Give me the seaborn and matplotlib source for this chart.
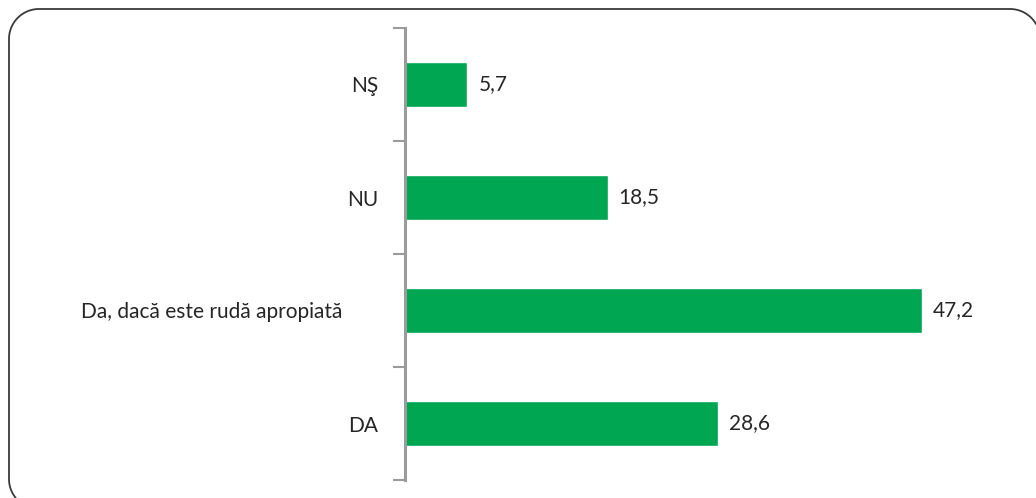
import matplotlib
matplotlib.use("Agg")
import numpy as np
import matplotlib.pyplot as plt
import matplotlib.transforms as mtransforms
import seaborn as sns
import pandas as pd

categories = ["NŞ", "NU", "Da, dacă este rudă apropiată", "DA"]
values = [5.7, 18.5, 47.2, 28.6]

BAR_COLOR = "#00A651"
AXIS_COLOR = "#9B9B9B"
TEXT_COLOR = "#262626"
FRAME_COLOR = "#3a3a3a"

sns.set_theme(style="white")
plt.rcParams["font.family"] = ["Lato", "DejaVu Sans"]

W, H = 1036, 498
fig = plt.figure(figsize=(W / 100, H / 100), dpi=100)

# Background layer in pixel units (y downwards) for the rounded frame,
# which runs off the right and bottom edges of the canvas
bg = fig.add_axes([0, 0, 1, 1], zorder=-1)
bg.set_xlim(0, W)
bg.set_ylim(H, 0)
bg.axis("off")


def corner(cx, cy, r, t0, t1, n=40):
    t = np.radians(np.linspace(t0, t1, n))
    return cx + r * np.cos(t), cy - r * np.sin(t)


R = 30
left, top = 9, 9
t_tr = np.degrees(np.arccos((W - (1040 - R)) / R))
t_bl = 180 + np.degrees(np.arcsin((H - (509 - R)) / R))
xs, ys = [], []
for cx, cy, a0, a1 in [(1040 - R, top + R, t_tr, 90),
                       (left + R, top + R, 90, 180),
                       (left + R, 509 - R, 180, t_bl)]:
    px, py = corner(cx, cy, R, a0, a1)
    xs.extend(px)
    ys.extend(py)
bg.plot(xs, ys, color=FRAME_COLOR, linewidth=1.3, solid_joinstyle="round")

ax = fig.add_axes([405 / W, 1 - 480 / H, (953 - 405) / W, (480 - 28) / H])
ax.patch.set_alpha(0)

df = pd.DataFrame({"cat": categories, "val": values})
sns.barplot(data=df, x="val", y="cat", order=categories, color=BAR_COLOR,
            saturation=1, width=0.4, ax=ax, orient="h")

ax.set_xlim(0, 50)
ax.set_ylim(len(categories) - 0.5, -0.5)
ax.set_xlabel("")
ax.set_ylabel("")
ax.set_xticks([])

# Category labels at bar centres, tick marks at category boundaries
ax.set_yticks([i for i in range(len(categories))], minor=True)
ax.set_yticklabels(categories, minor=True, color=TEXT_COLOR)
ax.set_yticks([i - 0.5 for i in range(len(categories) + 1)])
ax.set_yticklabels([])
ax.tick_params(axis="y", which="minor", length=0, pad=19.5, labelsize=15,
               labelcolor=TEXT_COLOR)
ax.tick_params(axis="y", which="major", length=8.6, width=1.5, color=AXIS_COLOR, left=True)

# The long label sits a little further left than the short ones
for lbl in ax.get_yticklabels(minor=True):
    if len(lbl.get_text()) > 10:
        lbl.set_transform(lbl.get_transform() +
                          mtransforms.ScaledTranslation(-0.36, 0, fig.dpi_scale_trans))

for side in ["top", "right", "bottom"]:
    ax.spines[side].set_visible(False)
ax.spines["left"].set_color(AXIS_COLOR)
ax.spines["left"].set_linewidth(2.2)

for i, v in enumerate(values):
    ax.text(v + 1.0, i, f"{v:.1f}".replace(".", ","), va="center", ha="left",
            fontsize=15, color=TEXT_COLOR)

fig.savefig("out.png", dpi=100)
